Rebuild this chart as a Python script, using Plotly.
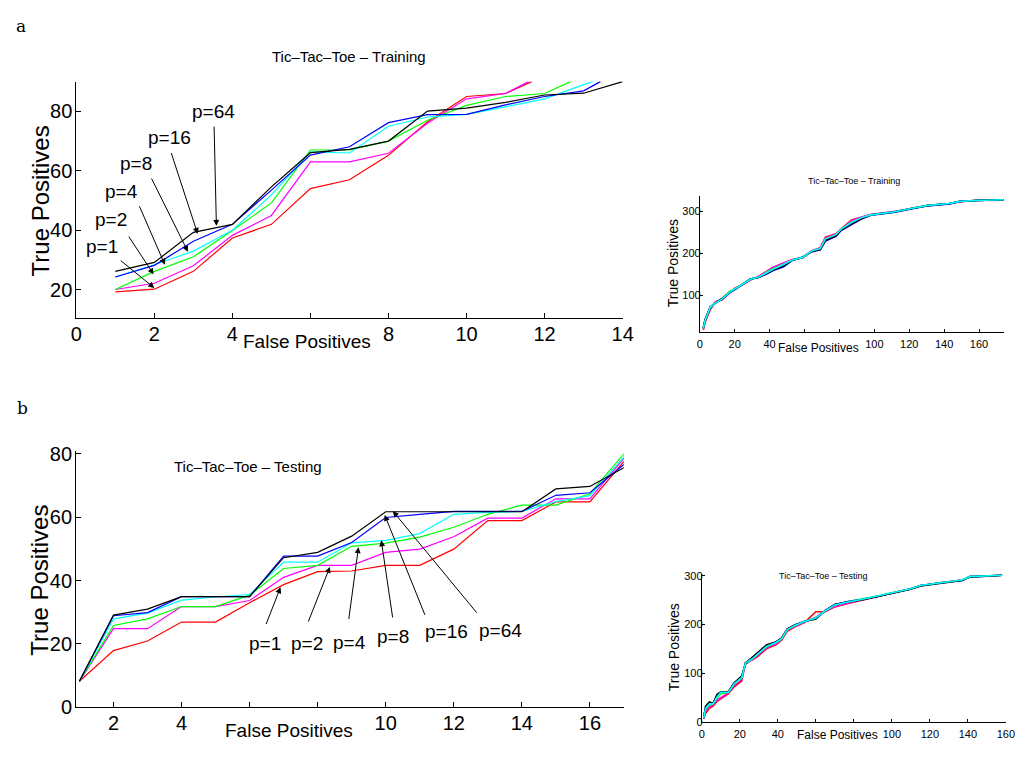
import plotly.graph_objects as go

W, H = 1028, 757
FONT = "Liberation Sans, Arial, sans-serif"

# ---------------- Panel a (left): Training ----------------
tr_red_x = [1, 2, 3, 4, 5, 6, 7, 8, 9, 10, 11, 11.67]
tr_red_y = [19.3, 20.2, 26.2, 37.4, 42, 54, 57, 65.2, 76.5, 85, 86, 90]
tr_mag_x = [1, 2, 3, 4, 5, 6, 7, 8, 9, 10, 11, 11.59]
tr_mag_y = [20.1, 22.2, 28.1, 38.3, 45, 63, 63, 65.9, 76, 84.2, 86, 90]
tr_grn_x = [1, 2, 3, 4, 5, 6, 7, 8, 9, 10, 11, 12, 12.67]
tr_grn_y = [20.1, 26.2, 31.1, 39.9, 49.2, 67, 67, 70, 77, 82, 85, 86, 90]
tr_cyn_x = [1, 2, 3, 4, 5, 6, 7, 8, 9, 10, 11, 12, 13, 13.24]
tr_cyn_y = [24.3, 28.4, 33, 40, 51.9, 66.4, 66, 75, 78.1, 79, 81.5, 84.2, 89, 90]
tr_blu_x = [1, 2, 3, 4, 5, 6, 7, 8, 9, 10, 11, 12, 13, 13.43]
tr_blu_y = [24.3, 28.2, 36.3, 42, 53.5, 65.3, 68.1, 76.2, 78.9, 79, 82.2, 85, 86.9, 90]
tr_blk_x = [1, 2, 3, 4, 5, 6, 7, 8, 9, 10, 11, 12, 13, 14]
tr_blk_y = [26.2, 29.2, 39.3, 42, 54.6, 66.1, 67.2, 70, 80.1, 81.1, 83, 85.5, 86.1, 90]
tr_xticks = [0, 2, 4, 6, 8, 10, 12, 14]
tr_xlabels = ["0", "2", "4", "", "8", "10", "12", "14"]
tr_yticks = [20, 40, 60, 80]

# ---------------- Panel b (left): Testing ----------------
te_x = [1, 2, 3, 4, 5, 6, 7, 8, 9, 10, 11, 12, 13, 14, 15, 16, 17]
te_red_y = [8.2, 17.9, 20.9, 26.9, 26.9, 33, 38.7, 42.8, 43, 44.8, 44.8, 49.9, 58.9, 58.9, 64.8, 64.8, 77.6]
te_mag_y = [8.2, 24.8, 24.8, 31.8, 31.8, 33.7, 41, 44.8, 44.8, 48.9, 49.9, 53.8, 59.7, 59.7, 65.8, 65.8, 78.6]
te_grn_y = [8.2, 25.8, 27.9, 31.8, 31.8, 35.4, 43.8, 44.8, 50.8, 51.8, 53.7, 56.8, 60.9, 63.8, 63.8, 67.4, 80]
te_cyn_y = [8.2, 27.9, 29.7, 33.8, 34.8, 35.6, 45.8, 45.8, 51.9, 52.7, 54.8, 60.9, 61.5, 61.8, 64.9, 66.8, 79]
te_blu_y = [8.2, 28.9, 29.9, 34.9, 34.9, 34.9, 47.7, 47.7, 52, 59.9, 60.9, 61.8, 61.8, 61.8, 66.9, 67.7, 76.6]
te_blk_y = [8.2, 29.1, 31, 34.9, 34.9, 34.9, 47.2, 48.9, 54, 61.7, 61.7, 61.7, 61.7, 61.7, 68.9, 69.7, 75.6]
te_xticks = [2, 4, 6, 8, 10, 12, 14, 16]
te_xlabels = ["2", "4", "", "", "10", "12", "14", "16"]
te_yticks = [0, 20, 40, 60, 80]

# ---------------- Small full-range Training ----------------
ftr_x = [2, 3, 6, 9, 13, 17, 20, 25, 29, 34, 38, 42, 48, 53, 59, 64, 69, 72, 78, 81,
         87, 93, 98, 111, 121, 130, 143, 149, 158, 174]
ftr_red = [18, 36, 66, 84, 90, 105, 117, 126, 136, 146, 155, 166, 176, 185, 190, 206, 213, 238, 246, 258,
           279, 287, 292, 298, 305, 313, 318, 322, 325, 326]
ftr_mag = [19, 38, 68, 85, 91, 106, 116, 127, 137, 145, 156, 167, 177, 184, 189, 205, 212, 236, 245, 256,
           277, 286, 292, 299, 306, 312, 317, 322, 325, 327]
ftr_grn = [21, 40, 71, 82, 93, 109, 115, 129, 138, 144, 154, 163, 174, 183, 190, 204, 210, 232, 242, 256,
           274, 284, 291, 298, 306, 313, 318, 323, 325, 327]
ftr_blu = [23, 42, 73, 81, 92, 106, 113, 127, 139, 143, 150, 159, 168, 183, 191, 203, 208, 229, 240, 254,
           268, 282, 290, 297, 305, 312, 317, 323, 325, 327]
ftr_blk = [22, 42, 72, 82, 93, 107, 114, 128, 139, 143, 151, 160, 170, 183, 190, 204, 209, 231, 241, 255,
           270, 283, 291, 298, 306, 313, 318, 323, 325, 327]
ftr_cyn = [22, 41, 72, 82, 92, 107, 115, 128, 138, 144, 153, 162, 173, 184, 190, 205, 211, 234, 244, 257,
           273, 285, 291, 298, 306, 313, 318, 323, 325, 327]

# ---------------- Small full-range Testing ----------------
fte_x = [1, 2, 4, 6, 8, 10, 14, 17, 21, 23, 27, 30, 34, 39, 42, 45, 49, 54, 60, 65,
         70, 77, 84, 93, 101, 110, 115, 124, 132, 137, 141, 150, 158]
fte_red = [6, 18, 28, 33, 42, 47, 58, 72, 84, 122, 128, 136, 150, 158, 168, 186, 195, 204, 226, 226,
           236, 243, 249, 257, 265, 273, 279, 285, 288, 291, 298, 299, 301]
fte_mag = [7, 22, 31, 35, 45, 50, 60, 75, 88, 118, 129, 138, 152, 160, 170, 188, 196, 205, 215, 227,
           237, 244, 250, 258, 266, 273, 280, 285, 288, 291, 298, 299, 301]
fte_grn = [8, 26, 35, 37, 49, 58, 61, 78, 90, 119, 131, 141, 154, 163, 171, 189, 198, 206, 213, 228,
           240, 247, 252, 259, 266, 273, 280, 285, 288, 291, 298, 299, 301]
fte_blu = [9, 31, 40, 38, 55, 61, 62, 80, 93, 120, 133, 144, 157, 164, 172, 191, 199, 206, 212, 229,
           241, 247, 251, 258, 265, 273, 280, 285, 288, 290, 298, 299, 301]
fte_blk = [9, 32, 41, 38, 56, 62, 62, 80, 94, 121, 134, 145, 158, 164, 172, 191, 199, 206, 211, 229,
           241, 246, 250, 258, 265, 272, 279, 284, 287, 290, 297, 299, 301]
fte_cyn = [8, 28, 37, 37, 51, 61, 61, 78, 91, 121, 131, 141, 155, 163, 171, 190, 198, 206, 213, 228,
           240, 246, 251, 259, 266, 273, 280, 285, 288, 291, 298, 299, 301]
small_xticks = [0, 20, 40, 60, 80, 100, 120, 140, 160]
small_xlabels = ["0", "20", "40", "", "", "100", "120", "140", "160"]
ftr_yticks = [100, 200, 300]
fte_yticks = [0, 100, 200, 300]

COLORS = {"red": "#ff0000", "mag": "#ff00ff", "grn": "#00ff00",
          "cyn": "#00ffff", "blu": "#0000ff", "blk": "#000000"}

# Arrow annotations: label, head (x, y), tail (x, y), text (x, y)
tr_arrows = [
    ("p=1", (2.0, 20.6), (1.1, 30.2), (0.67, 34.4)),
    ("p=2", (1.98, 25.2), (1.32, 38.4), (0.89, 43.7)),
    ("p=4", (2.27, 28.4), (1.6, 48.6), (1.17, 53.1)),
    ("p=8", (2.86, 32.8), (1.91, 57.9), (1.52, 62.3)),
    ("p=16", (3.11, 38.8), (2.42, 66.5), (2.4, 71.2)),
    ("p=64", (3.59, 41.5), (3.53, 75.4), (3.51, 79.8)),
]
te_arrows = [
    ("p=1", (6.91, 37.9), (6.47, 25.8), (6.45, 20.2)),
    ("p=2", (8.36, 44.3), (7.71, 26.6), (7.68, 20.2)),
    ("p=4", (9.2, 50.5), (8.91, 27.4), (8.93, 20.4)),
    ("p=8", (9.87, 52.7), (10.21, 27.9), (10.21, 22.2)),
    ("p=16", (9.97, 60.7), (11.17, 28.7), (11.8, 23.8)),
    ("p=64", (10.21, 61.9), (12.71, 29.4), (13.36, 24.3)),
]


def px2x(px):
    return px / W


def py2y(py):
    return 1 - py / H


fig = go.Figure()

# panel a main
for key, xs, ys in [("red", tr_red_x, tr_red_y), ("mag", tr_mag_x, tr_mag_y),
                    ("grn", tr_grn_x, tr_grn_y), ("cyn", tr_cyn_x, tr_cyn_y),
                    ("blu", tr_blu_x, tr_blu_y), ("blk", tr_blk_x, tr_blk_y)]:
    fig.add_trace(go.Scatter(x=xs, y=ys, mode="lines", line=dict(color=COLORS[key], width=1.2),
                             xaxis="x", yaxis="y", showlegend=False, hoverinfo="skip"))
# panel b main
for key, ys in [("red", te_red_y), ("mag", te_mag_y), ("grn", te_grn_y),
                ("cyn", te_cyn_y), ("blu", te_blu_y), ("blk", te_blk_y)]:
    fig.add_trace(go.Scatter(x=te_x, y=ys, mode="lines", line=dict(color=COLORS[key], width=1.2),
                             xaxis="x2", yaxis="y2", showlegend=False, hoverinfo="skip"))
# small training
for key, ys in [("red", ftr_red), ("mag", ftr_mag), ("grn", ftr_grn),
                ("blu", ftr_blu), ("blk", ftr_blk), ("cyn", ftr_cyn)]:
    fig.add_trace(go.Scatter(x=ftr_x, y=ys, mode="lines", line=dict(color=COLORS[key], width=1.6),
                             xaxis="x3", yaxis="y3", showlegend=False, hoverinfo="skip"))
# small testing
for key, ys in [("red", fte_red), ("mag", fte_mag), ("grn", fte_grn),
                ("blu", fte_blu), ("blk", fte_blk), ("cyn", fte_cyn)]:
    fig.add_trace(go.Scatter(x=fte_x, y=ys, mode="lines", line=dict(color=COLORS[key], width=1.6),
                             xaxis="x4", yaxis="y4", showlegend=False, hoverinfo="skip"))


def ax(domain, rng, tickvals, size, ticklen, anchor, ticktext=None, standoff=0):
    d = dict(domain=domain, range=rng, tickvals=tickvals, showgrid=False, zeroline=False,
             showline=True, linecolor="black", linewidth=1, ticks="inside", ticklen=ticklen,
             tickcolor="black", tickwidth=1, anchor=anchor, ticklabelstandoff=standoff,
             tickfont=dict(family=FONT, size=size, color="black"))
    if ticktext is not None:
        d["ticktext"] = ticktext
    return d


fig.update_layout(
    width=W, height=H, margin=dict(l=0, r=0, t=0, b=0),
    paper_bgcolor="white", plot_bgcolor="white", showlegend=False,
    xaxis=ax([px2x(71.5), px2x(627)], [0, 14], tr_xticks, 20, 5, "y", tr_xlabels, -2),
    yaxis=ax([py2y(318), py2y(75.5)], [10.5, 90], tr_yticks, 20, 5, "x", None, -1),
    xaxis2=ax([px2x(71.2), px2x(628.3)], [0.9, 17], te_xticks, 20, 5, "y2", te_xlabels, -2),
    yaxis2=ax([py2y(717.3), py2y(454)], [0, 81], te_yticks, 20, 5, "x2", None, -1),
    xaxis3=ax([px2x(705.5), px2x(1015.1)], [0, 174.5], small_xticks, 11, 3, "y3", small_xlabels, 1),
    yaxis3=ax([py2y(332.7), py2y(193.2)], [12, 335], ftr_yticks, 11, 3, "x3", None, -4),
    xaxis4=ax([px2x(707.5), px2x(1016.7)], [0, 160], small_xticks, 11, 3, "y4", small_xlabels, 2),
    yaxis4=ax([py2y(732.3), py2y(580.8)], [0, 303], fte_yticks, 11, 3, "x4", None, -4),
)

ann = []


def text_px(txt, px, py, size, angle=0, family=FONT):
    ann.append(dict(text=txt, x=px2x(px), y=py2y(py), xref="paper", yref="paper",
                    xanchor="center", yanchor="middle", showarrow=False, textangle=angle,
                    font=dict(family=family, size=size, color="black")))


# panel letters
text_px("a", 15, 18, 17, family="DejaVu Serif, Liberation Serif, serif")
text_px("b", 17, 410, 17, family="DejaVu Serif, Liberation Serif, serif")

# titles & labels, big panels
text_px("Tic\u2013Tac\u2013Toe \u2013 Training", 349, 50, 15)
text_px("False Positives", 306, 342, 19)
text_px("True Positives", 35, 198, 24, angle=-90)

text_px("Tic\u2013Tac\u2013Toe \u2013 Testing", 246, 470, 15)
text_px("False Positives", 288, 741, 19)
text_px("True Positives", 34, 587, 24, angle=-90)

# small panels
text_px("Tic\u2013Tac\u2013Toe \u2013 Training", 862, 177, 9)
text_px("False Positives", 826, 349, 12)
text_px("True Positives", 679, 262, 14, angle=-90)

text_px("Tic\u2013Tac\u2013Toe \u2013 Testing", 831, 583, 9)
text_px("False Positives", 845, 746, 12)
text_px("True Positives", 679, 656, 14, angle=-90)

# arrows with labels
for arrows, xr, yr in [(tr_arrows, "x", "y"), (te_arrows, "x2", "y2")]:
    for label, head, tail, tpos in arrows:
        ann.append(dict(text="", x=head[0], y=head[1], ax=tail[0], ay=tail[1],
                        xref=xr, yref=yr, axref=xr, ayref=yr, showarrow=True,
                        arrowhead=2, arrowsize=1.2, arrowwidth=1, arrowcolor="black"))
        ann.append(dict(text=label, x=tpos[0], y=tpos[1], xref=xr, yref=yr,
                        showarrow=False, xanchor="center", yanchor="middle",
                        font=dict(family=FONT, size=19, color="black")))

fig.update_layout(annotations=ann)
fig.write_html("out.html")
